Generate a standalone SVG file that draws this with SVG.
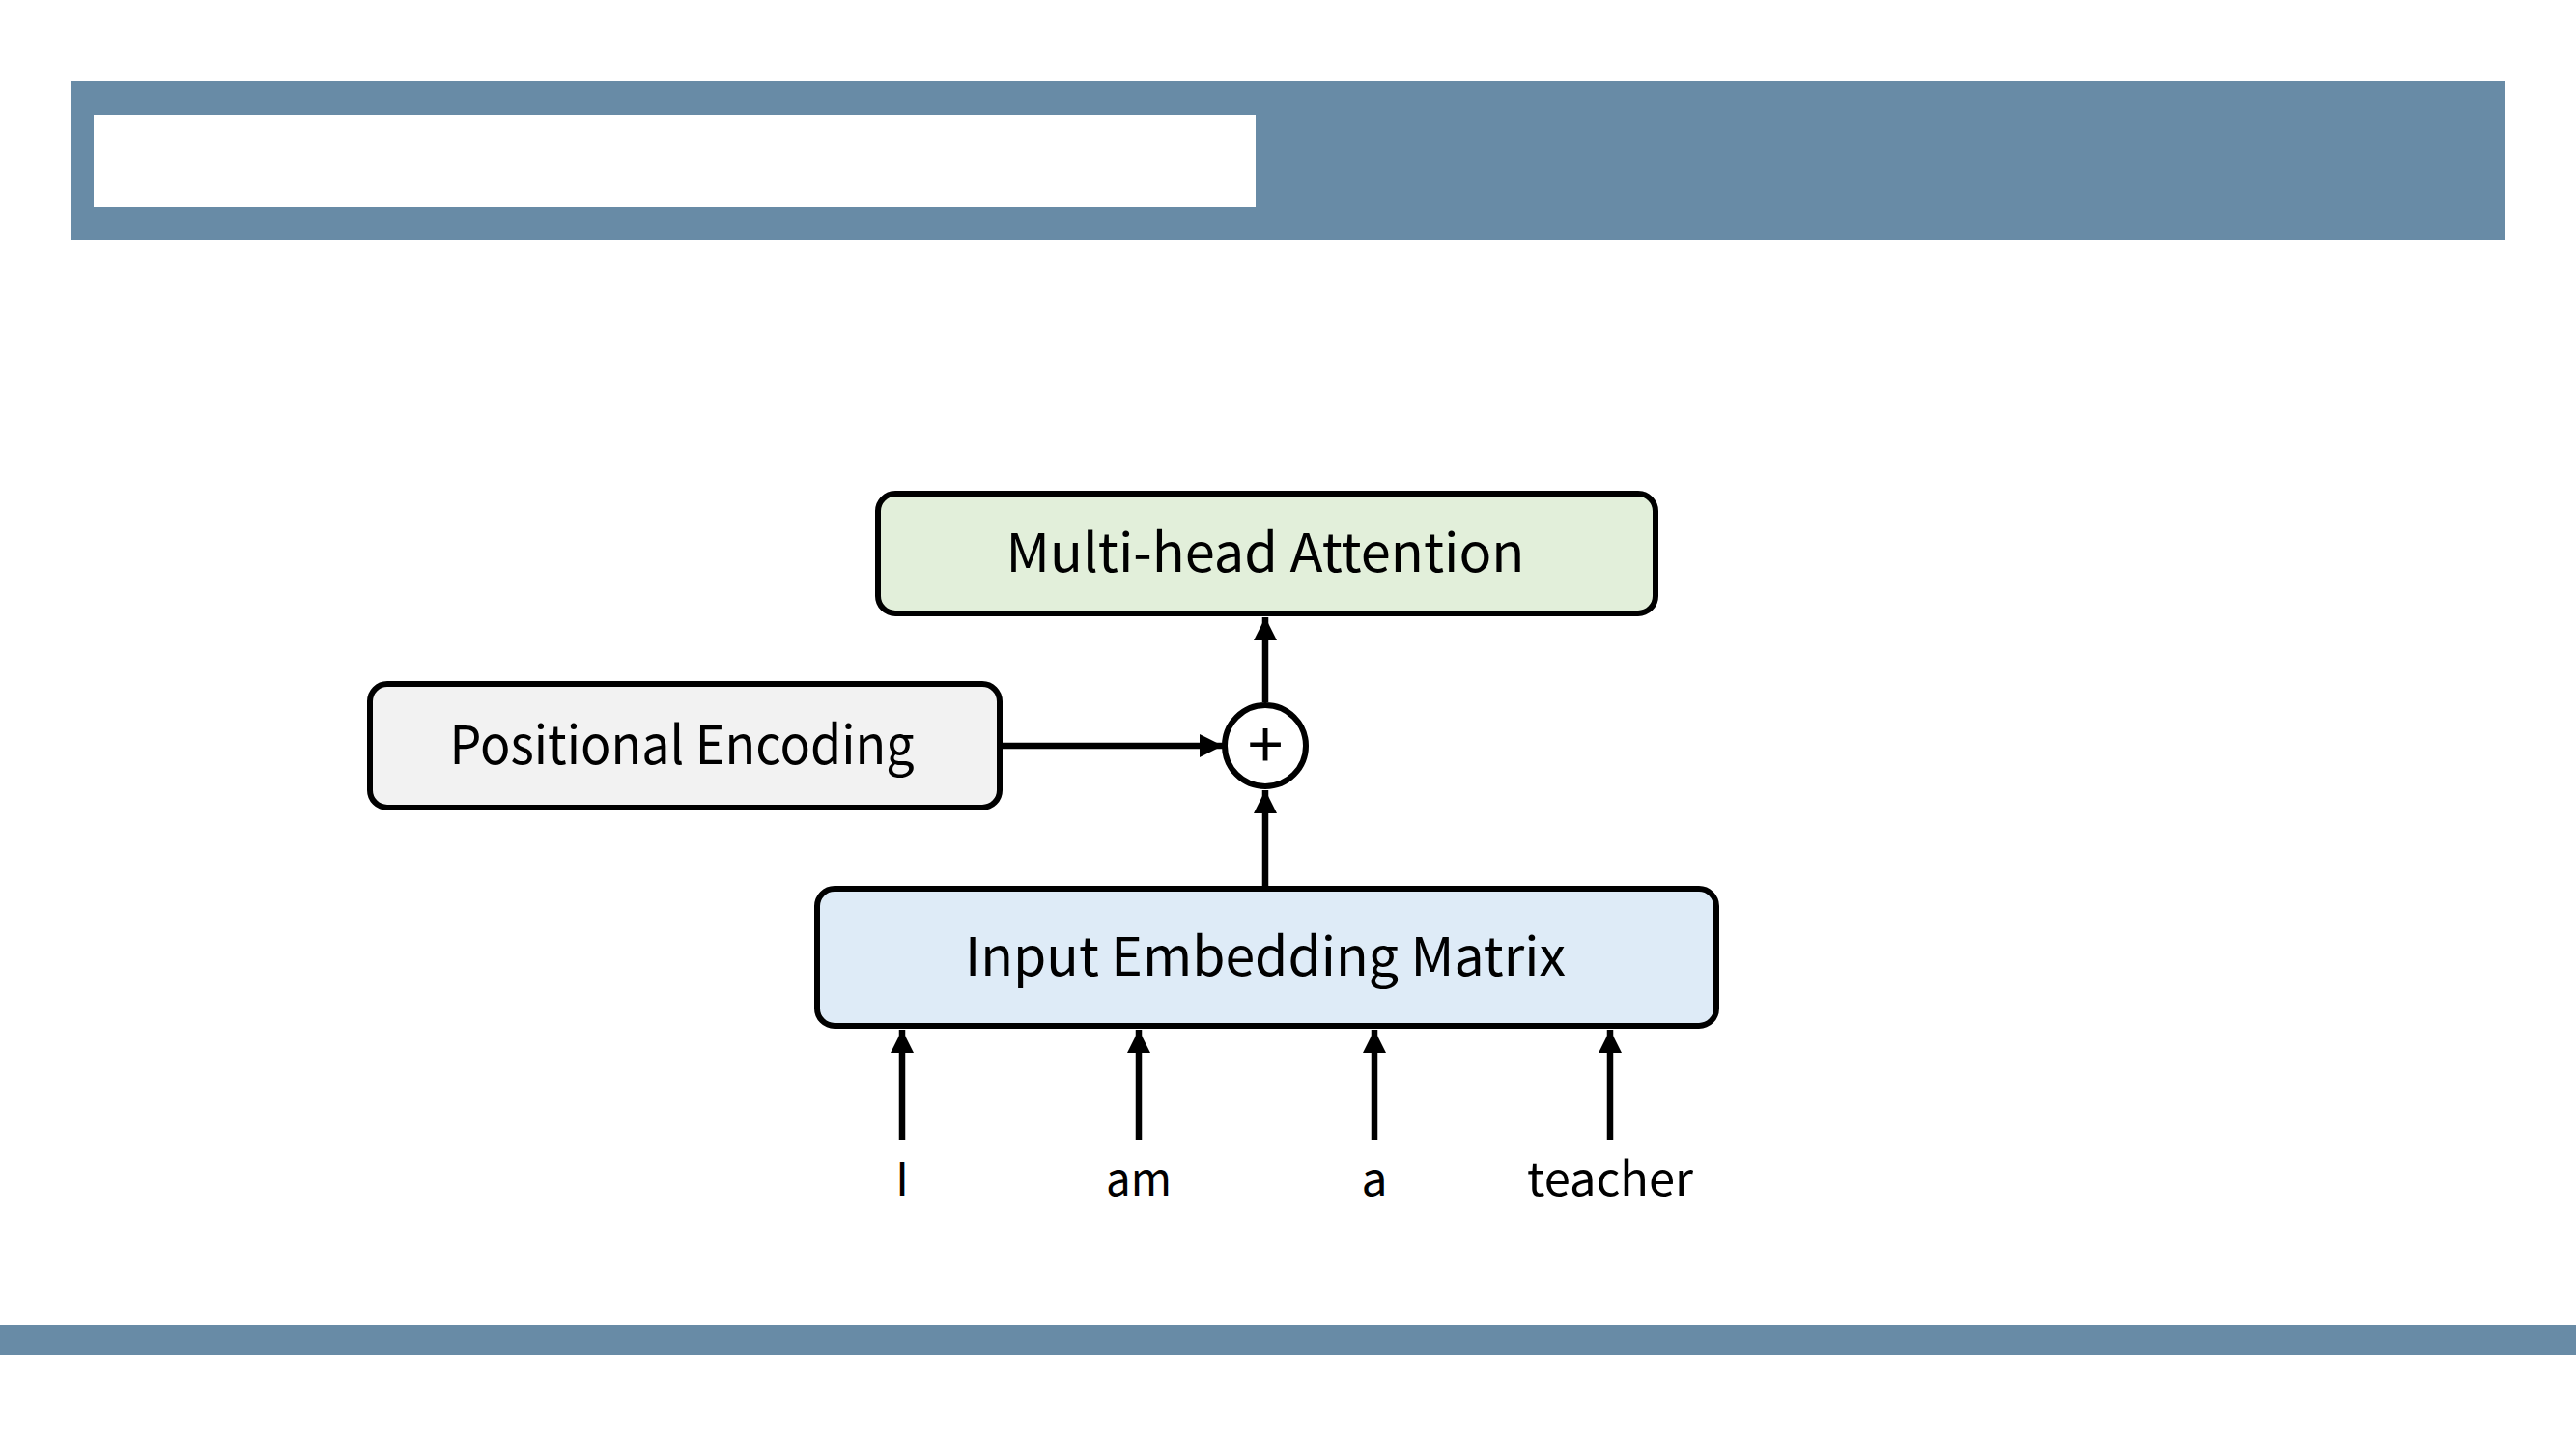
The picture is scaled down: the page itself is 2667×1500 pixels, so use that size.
<svg xmlns="http://www.w3.org/2000/svg" width="2667" height="1500" viewBox="0 0 2667 1500">
<style>
.band{fill:#688ba6}
.box{stroke:#000;stroke-width:6}
.lbl{font-family:"Noto Sans CJK KR","Noto Sans",sans-serif;font-size:55px;fill:#000;text-anchor:middle}
.word{font-family:"Noto Sans CJK KR","Noto Sans",sans-serif;font-size:48px;fill:#000;text-anchor:middle}
.conn{stroke:#000;stroke-width:6.5;fill:none}
</style>
<defs>
<marker id="ah" markerUnits="userSpaceOnUse" markerWidth="26" markerHeight="26" refX="24" refY="12" orient="auto">
<path d="M0,0 L24,12 L0,24 Z" fill="#000"/>
</marker>
</defs>
<rect width="2667" height="1500" fill="#fff"/>
<rect class="band" x="73" y="84" width="2521" height="164"/>
<rect x="97" y="119" width="1203" height="95" fill="#fff"/>
<rect class="band" x="0" y="1372" width="2667" height="31"/>
<g id="connectors">
<line class="conn" x1="1310" y1="727" x2="1310" y2="639" marker-end="url(#ah)"/>
<line class="conn" x1="1037" y1="772" x2="1266" y2="772" marker-end="url(#ah)"/>
<line class="conn" x1="1310" y1="918" x2="1310" y2="818" marker-end="url(#ah)"/>
<line class="conn" x1="934" y1="1180" x2="934" y2="1066" marker-end="url(#ah)"/>
<line class="conn" x1="1179" y1="1180" x2="1179" y2="1066" marker-end="url(#ah)"/>
<line class="conn" x1="1423" y1="1180" x2="1423" y2="1066" marker-end="url(#ah)"/>
<line class="conn" x1="1667" y1="1180" x2="1667" y2="1066" marker-end="url(#ah)"/>
</g>
<g id="mha">
<rect class="box" x="909" y="511" width="805" height="124" rx="18" fill="#e2efda"/>
<text class="lbl" x="1310" y="592" textLength="537" lengthAdjust="spacingAndGlyphs">Multi-head Attention</text>
</g>
<g id="pe">
<rect class="box" x="383" y="708" width="652" height="128" rx="18" fill="#f2f2f2"/>
<text class="lbl" x="706" y="791" textLength="481" lengthAdjust="spacingAndGlyphs">Positional Encoding</text>
</g>
<g id="plus">
<circle class="box" cx="1310" cy="772" r="42" fill="#fff"/>
<text class="lbl" x="1310" y="795" style="font-size:66px">+</text>
</g>
<g id="iem">
<rect class="box" x="846" y="920" width="931" height="142" rx="18" fill="#deebf7"/>
<text class="lbl" x="1310" y="1010" textLength="622" lengthAdjust="spacingAndGlyphs">Input Embedding Matrix</text>
</g>
<g id="words">
<text class="word" x="934" y="1238">I</text>
<text class="word" x="1179" y="1238" textLength="68" lengthAdjust="spacingAndGlyphs">am</text>
<text class="word" x="1423" y="1238">a</text>
<text class="word" x="1667" y="1238" textLength="172" lengthAdjust="spacingAndGlyphs">teacher</text>
</g>
</svg>
